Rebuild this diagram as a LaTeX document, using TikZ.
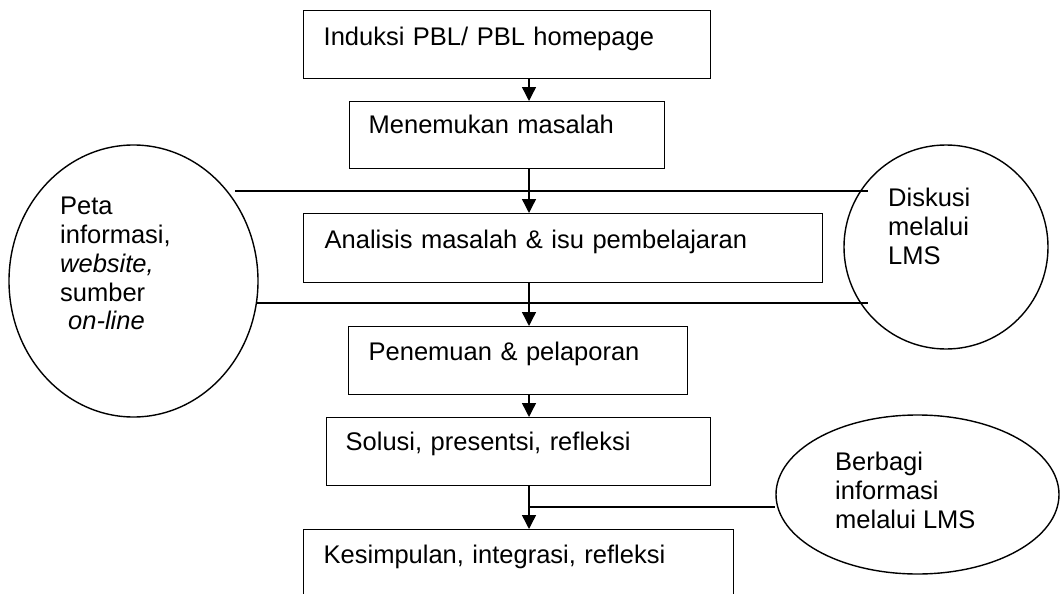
\documentclass[tikz,border=0pt]{standalone}
\usepackage{fontspec}
\setmainfont{Liberation Sans}
\usetikzlibrary{arrows.meta,shapes.geometric,calc}
\tikzset{
  box/.style={draw, line width=1.4pt, anchor=north west, inner ysep=0pt, align=left,
    font=\fontsize{25.5}{28.8}\selectfont},
  oval/.style={draw, ellipse, line width=1.4pt, inner sep=0pt},
  ovaltext/.style={anchor=north west, inner sep=0pt, align=left,
    font=\fontsize{25.5}{28.8}\selectfont},
  arr/.style={line width=1.4pt, -{Triangle[width=14pt,length=14pt]}},
  link/.style={line width=1.4pt},
}
\begin{document}
\begin{tikzpicture}[x=1pt,y=-1pt]
\clip (0,0) rectangle (1060,594);
\fill[white] (0,0) rectangle (1060,594);
% boxes
\node[box, inner xsep=20pt, text width=367pt, text height=35pt, text depth=33pt] (b1) at (303,10) {Induksi PBL/ PBL homepage};
\node[box, inner xsep=19pt, text width=277pt, text height=32pt, text depth=35pt] (b2) at (349,101) {Menemukan masalah};
\node[box, inner xsep=21pt, text width=477pt, text height=35pt, text depth=34pt] (b3) at (303,213) {Analisis masalah \& isu pembelajaran};
\node[box, inner xsep=20pt, text width=299pt, text height=34pt, text depth=34pt] (b4) at (348,326) {Penemuan \& pelaporan};
\node[box, inner xsep=19pt, text width=346pt, text height=33pt, text depth=35pt] (b5) at (326,417) {Solusi, presentsi, refleksi};
\node[box, inner xsep=20pt, text width=390pt, text height=34pt, text depth=56pt] (b6) at (303,529) {Kesimpulan, integrasi, refleksi};
% ovals
\node[oval, minimum width=249pt, minimum height=272pt] (peta) at (133.5,281) {};
\node[oval, minimum width=204pt, minimum height=204pt] (diskusi) at (946,247) {};
\node[oval, minimum width=283pt, minimum height=159pt] (berbagi) at (917.5,494.5) {};
\node[ovaltext] (petatext) at (60,197) {Peta\\informasi,\\\textit{website,}\\sumber\\\hspace*{8pt}\textit{on-line}};
\node[ovaltext] (diskusitext) at (888,188) {Diskusi\\melalui\\LMS};
\node[ovaltext] (berbagitext) at (835,452) {Berbagi\\informasi\\melalui LMS};
% spine
\coordinate (spine) at (529,0);
\draw[arr] (spine |- b1.south) -- (spine |- b2.north);
\draw[arr] (spine |- b2.south) -- (spine |- b3.north);
\draw[arr] (spine |- b3.south) -- (spine |- b4.north);
\draw[arr] (spine |- b4.south) -- (spine |- b5.north);
\draw[arr] (spine |- b5.south) -- (spine |- b6.north);
% side lines
\coordinate (l1a) at (235,191);
\coordinate (l1b) at (868,191);
\coordinate (l2a) at (257,303);
\coordinate (l2b) at (868,303);
\coordinate (j3) at (529,507);
\draw[link] (l1a) -- (l1b);
\draw[link] (l2a) -- (l2b);
\draw[link] (j3) -- (j3 -| berbagi.west);
\end{tikzpicture}
\end{document}
